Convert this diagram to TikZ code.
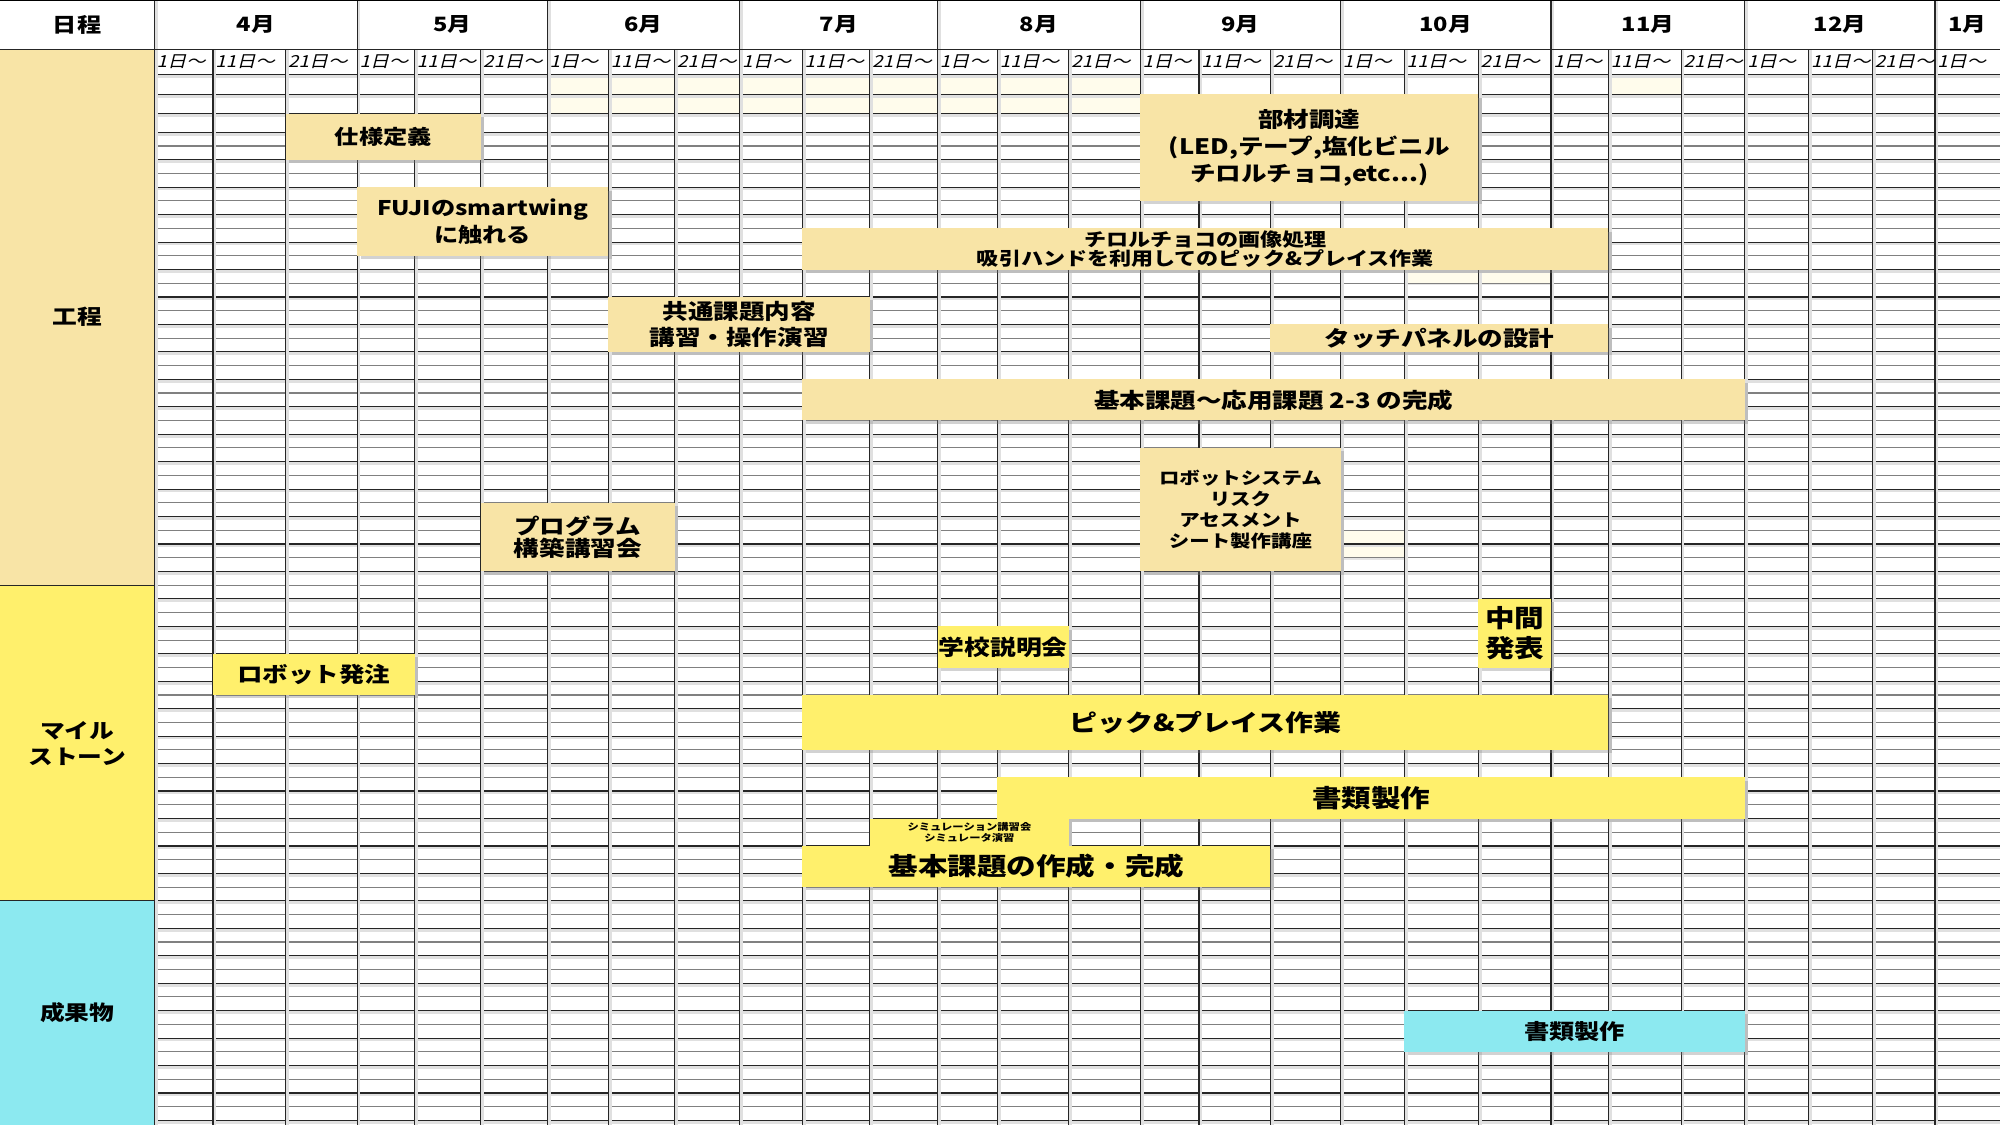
\documentclass[tikz,border=0pt]{standalone}
\usepackage{fontspec}
\setmainfont{Noto Sans CJK JP}[FakeStretch=1.2]
\newfontfamily\ngayfont{Noto Sans CJK JP}[FakeStretch=1.15,FakeSlant=0.25]
\usetikzlibrary{fit,shadows}
\definecolor{mauvang}{HTML}{F8E4A6}
\definecolor{mautuoi}{HTML}{FFF06C}
\definecolor{mauxanh}{HTML}{8CE9F0}
\definecolor{maukem}{HTML}{FFFCEC}
\begin{document}
\begin{tikzpicture}[x=0.02cm,y=-0.02cm,declare function={hang(\n)=103.7+(\n-3)*10.76;}]
				\tikzset{co/.style 2 args={font=\bfseries\fontsize{#1}{#2}\selectfont,align=center},
					chu/.style 2 args={co={#1}{#2},inner sep=0pt},
					hop/.style={inner sep=0pt,drop shadow={shadow xshift=1.5pt,shadow yshift=-1.5pt,opacity=0.35}},
					congdoan/.style={hop,fill=mauvang},
					moc/.style={hop,fill=mautuoi},
					thanhpham/.style={hop,fill=mauxanh},
					kemnen/.style={fill=maukem,drop shadow={shadow xshift=1pt,shadow yshift=-1pt,opacity=0.2}},
					ngay/.style={font=\ngayfont\fontsize{7.4}{8}\selectfont,anchor=west,inner sep=0pt},
					duong/.style={line width=0.5pt,black!85},
					duongmo/.style={line width=0.5pt,black!50},
					bong/.style={line width=1.6pt,black!12}}
				\useasboundingbox (0,0) rectangle (1568,882);
				
				% Nền cột nhãn
				\fill[white] (0,0) rectangle (1568,882);
				\fill[mauvang] (0,39) rectangle (121,{hang(36)});
				\fill[mautuoi] (0,{hang(36)}) rectangle (121,{hang(59)});
				\fill[mauxanh] (0,{hang(59)}) rectangle (121,882);
				
				% Ô màu kem
				\path[kemnen] (429,58.5) rectangle (894,89);
				\path[kemnen] (1261,58.5) rectangle (1318,74);
				\path[kemnen] (1101,{hang(13)}) rectangle (1216,{hang(14)});
				\path[kemnen] (1051,{hang(32)}) rectangle (1101,{hang(34)});
				
				% Lưới
				\foreach \y in {58.5,74,89} {\draw[bong] (121,\y+1.2) -- (1568,\y+1.2); \draw[duong] (121,\y) -- (1568,\y);}
				\foreach \n in {3,5,...,75} {\draw[bong] (121,{hang(\n)+1.2}) -- (1568,{hang(\n)+1.2}); \draw[duong] (121,{hang(\n)}) -- (1568,{hang(\n)});}
				\foreach \n in {4,6,...,74} \draw[duongmo] (121,{hang(\n)}) -- (1568,{hang(\n)});
				\foreach \x in {167,224,325,377,477,529,629,682,782,838,940,996,1101,1159,1261,1318,1418,1468} {\draw[bong] (\x+1.2,39) -- (\x+1.2,882); \draw[duong] (\x,39) -- (\x,882);}
				\foreach \x in {121,280,429,580,735,894,1051,1216,1368,1517} {\draw[bong] (\x+1.2,0) -- (\x+1.2,882); \draw[duong] (\x,0) -- (\x,882);}
				\draw[duong] (0,39) -- (1568,39);
				\draw[duong] (0,{hang(36)}) -- (121,{hang(36)});
				\draw[duong] (0,{hang(59)}) -- (121,{hang(59)});
				\draw[line width=1pt] (0,0) -- (1568,0);
				
				% Tiêu đề
				\node[co={9}{11}] (lichtrinh) at (60.5,19.5) {日程};
				\foreach \x/\m in {200.5/4,354.5/5,504.5/6,657.5/7,814.5/8,972.5/9,1133.5/10,1292/11,1442.5/12,1542.5/1}
					\node[co={8.8}{10}] (thang\m) at (\x,19.5) {\m{}月};
				\foreach \x/\d [count=\i] in {121/1,167/11,224/21,280/1,325/11,377/21,429/1,477/11,529/21,580/1,629/11,682/21,735/1,782/11,838/21,894/1,940/11,996/21,1051/1,1101/11,1159/21,1216/1,1261/11,1318/21,1368/1,1418/11,1468/21,1517/1}
					\node[ngay] (ngay\i) at (\x+1.5,48.7) {\d{}日〜};
				
				% Nhãn các phần
				\node[co={9.2}{11.4}] (congdoannhan) at (60.5,248) {工程};
				\node[co={9.2}{11.4}] (mocnhan) at (60.5,583) {マイル\\ストーン};
				\node[co={9.2}{11.4}] (thanhphamnhan) at (60.5,794) {成果物};
				
				% Các thanh: 工程
				\node[congdoan,fit={(224,89) (377,{hang(5)})}] (shiyo) {};
				\node[chu={9}{10}] (shiyo-t) at (shiyo) {仕様定義};
				\node[congdoan,fit={(280,{hang(7)}) (477,{hang(12)})}] (fuji) {};
				\node[chu={9}{12}] (fuji-t) at (fuji) {FUJIのsmartwing\\に触れる};
				\node[congdoan,fit={(894,74) (1159,{hang(8)})}] (buzai) {};
				\node[chu={9.5}{12}] (buzai-t) at (buzai) {部材調達\\(LED,テープ,塩化ビニル\\チロルチョコ,etc...)};
				\node[congdoan,fit={(629,{hang(10)}) (1261,{hang(13)})}] (chiroru) {};
				\node[chu={8.2}{8.6}] (chiroru-t) at (chiroru) {チロルチョコの画像処理\\吸引ハンドを利用してのピック\&プレイス作業};
				\node[congdoan,fit={(477,{hang(15)}) (682,{hang(19)})}] (kyotsu) {};
				\node[chu={9.5}{11.4}] (kyotsu-t) at (kyotsu) {共通課題内容\\講習・操作演習};
				\node[congdoan,fit={(996,{hang(17)}) (1261,{hang(19)})}] (touch) {};
				\node[chu={9.5}{11}] (touch-t) at (touch) {タッチパネルの設計};
				\node[congdoan,fit={(629,{hang(21)}) (1368,{hang(24)})}] (oyo) {};
				\node[chu={9.5}{11}] (oyo-t) at (oyo) {基本課題〜応用課題 2-3 の完成};
				\node[congdoan,fit={(894,{hang(26)}) (1051,{hang(35)})}] (risk) {};
				\node[chu={7.6}{9.3}] (risk-t) at (risk) {ロボットシステム\\リスク\\アセスメント\\シート製作講座};
				\node[congdoan,fit={(377,{hang(30)}) (529,{hang(35)})}] (program) {};
				\node[chu={9.5}{10.2}] (program-t) at (program) {プログラム\\構築講習会};
				
				% Các thanh: マイルストーン
				\node[moc,fit={(1159,{hang(37)}) (1216,{hang(42)})}] (chukan) {};
				\node[chu={11}{13.7}] (chukan-t) at (chukan) {中間\\発表};
				\node[moc,fit={(735,{hang(39)}) (838,{hang(42)})}] (gakko) {};
				\node[chu={9.6}{11}] (gakko-t) at (gakko) {学校説明会};
				\node[moc,fit={(167,{hang(41)}) (325,{hang(44)})}] (hatchu) {};
				\node[chu={9.5}{11}] (hatchu-t) at (hatchu) {ロボット発注};
				\node[moc,fit={(629,{hang(44)}) (1261,{hang(48)})}] (pick) {};
				\node[chu={10.4}{12}] (pick-t) at (pick) {ピック\&プレイス作業};
				\node[moc,fit={(782,{hang(50)}) (1368,{hang(53)})}] (shorui) {};
				\node[chu={11}{12}] (shorui-t) at (shorui) {書類製作};
				\node[moc,fit={(682,{hang(53)}) (838,{hang(55)})}] (sim) {};
				\node[chu={4.2}{5.1}] (sim-t) at (sim) {シミュレーション講習会\\シミュレータ演習};
				\node[moc,fit={(629,{hang(55)}) (996,{hang(58)})}] (kihon) {};
				\node[chu={11}{12}] (kihon-t) at (kihon) {基本課題の作成・完成};
				
				% Các thanh: 成果物
				\node[thanhpham,fit={(1101,{hang(67)}) (1368,{hang(70)})}] (shoruikq) {};
				\node[chu={9.4}{11}] (shoruikq-t) at (shoruikq) {書類製作};
			\end{tikzpicture}
\end{document}
